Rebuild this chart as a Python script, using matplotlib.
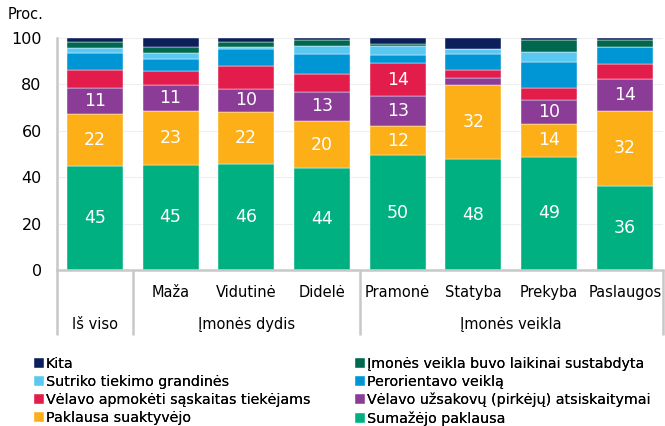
import matplotlib
matplotlib.use('Agg')
import matplotlib.pyplot as plt
import matplotlib.transforms as mtransforms
import numpy as np

# kategorijos
categories = ['Iš viso', 'Maža', 'Vidutinė', 'Didelė', 'Pramonė', 'Statyba', 'Prekyba', 'Paslaugos']
groups = ['Iš viso', 'Įmonės dydis', 'Įmonės veikla']

# serijos (nuo apačios į viršų)
sumazejo_paklausa = [44.9, 45.3, 45.8, 43.8, 49.5, 47.6, 48.7, 36.2]
paklausa_suaktyvejo = [22.1, 23.3, 22.2, 20.3, 12.4, 32.0, 14.3, 32.4]
velavo_uzsakovu = [11.2, 10.9, 10.0, 12.6, 13.0, 3.1, 10.2, 13.6]
velavo_apmoketi = [7.9, 6.2, 9.7, 7.7, 14.1, 3.4, 5.2, 6.3]
perorientavo = [7.2, 5.1, 7.4, 8.4, 3.7, 6.7, 11.0, 7.4]
sutriko_tiekimo = [2.4, 2.6, 0.7, 3.8, 3.9, 2.5, 4.6, 0.0]
laikinai_sustabdyta = [2.6, 2.7, 2.2, 2.4, 0.7, 0.0, 5.1, 2.9]
kita = [1.7, 3.9, 2.0, 1.0, 2.7, 4.7, 0.9, 1.2]

series = [
    ('Sumažėjo paklausa', sumazejo_paklausa, '#00b081'),
    ('Paklausa suaktyvėjo', paklausa_suaktyvejo, '#fcaf17'),
    ('Vėlavo užsakovų (pirkėjų) atsiskaitymai', velavo_uzsakovu, '#8a3c96'),
    ('Vėlavo apmokėti sąskaitas tiekėjams', velavo_apmoketi, '#e31d4b'),
    ('Perorientavo veiklą', perorientavo, '#0096d6'),
    ('Sutriko tiekimo grandinės', sutriko_tiekimo, '#5bc8f2'),
    ('Įmonės veikla buvo laikinai sustabdyta', laikinai_sustabdyta, '#00684f'),
    ('Kita', kita, '#0c1f5b'),
]

fig = plt.figure(figsize=(6.65, 4.26), dpi=100)
ax = fig.add_axes([0.0857, 0.3662, 0.9107, 0.5453])

x = np.arange(len(categories))
bottom = np.zeros(len(categories))
handles = {}
for i, (name, vals, col) in enumerate(series):
    vals = np.array(vals)
    b = ax.bar(x, vals, 0.74, bottom=bottom, color=col, edgecolor='white', linewidth=0.3)
    handles[name] = b
    # reikšmės rodomos tik keturioms apatinėms serijoms
    if i < 4:
        for xi, v, bt in zip(x, vals, bottom):
            if v >= 10:
                ax.text(xi, bt + v / 2, f'{round(v):d}', ha='center', va='center',
                        color='white', fontsize=12.5)
    bottom += vals

ax.set_xlim(-0.5, len(categories) - 0.5)
ax.set_ylim(0, 100)
ax.set_yticks(range(0, 101, 20))
ax.tick_params(axis='y', length=0, labelsize=11.5, pad=11)
ax.set_xticks([])
ax.yaxis.grid(True, color='#efefef', linewidth=0.8)
ax.set_axisbelow(True)
for s in ['top', 'right']:
    ax.spines[s].set_visible(False)
ax.spines['left'].set_color('#c8c8c8')
ax.spines['left'].set_linewidth(1.8)
ax.spines['bottom'].set_color('#c8c8c8')
ax.spines['bottom'].set_linewidth(1.8)

fig.text(0.011, 0.965, 'Proc.', fontsize=10.5, va='center')

# kategorijų lentelė po ašimi
trans = mtransforms.blended_transform_factory(ax.transData, ax.transAxes)
for sx in [-0.5, 0.5, 3.5, 7.5]:
    ax.plot([sx, sx], [0, -0.28], transform=trans, color='#c8c8c8', lw=1.8,
            clip_on=False, solid_capstyle='butt')
for xi, c in zip(x[1:], categories[1:]):
    ax.text(xi, -0.095, c, transform=trans, ha='center', va='center', fontsize=10.5)
group_pos = [0, 2, 5.5]
for gx, g in zip(group_pos, groups):
    ax.text(gx, -0.235, g, transform=trans, ha='center', va='center', fontsize=10.5)

# legenda
col1 = ['Kita', 'Sutriko tiekimo grandinės', 'Vėlavo apmokėti sąskaitas tiekėjams', 'Paklausa suaktyvėjo']
col2 = ['Įmonės veikla buvo laikinai sustabdyta', 'Perorientavo veiklą',
        'Vėlavo užsakovų (pirkėjų) atsiskaitymai', 'Sumažėjo paklausa']
for names, xpos in [(col1, 0.051), (col2, 0.534)]:
    leg = fig.legend([handles[n] for n in names], names, loc='upper left',
                     bbox_to_anchor=(xpos, 0.161), frameon=False, fontsize=10.3,
                     handlelength=0.7, handleheight=0.7, handletextpad=0.15,
                     labelspacing=0.26, borderpad=0, borderaxespad=0)
    fig.add_artist(leg)

fig.savefig('out.png', dpi=100)
